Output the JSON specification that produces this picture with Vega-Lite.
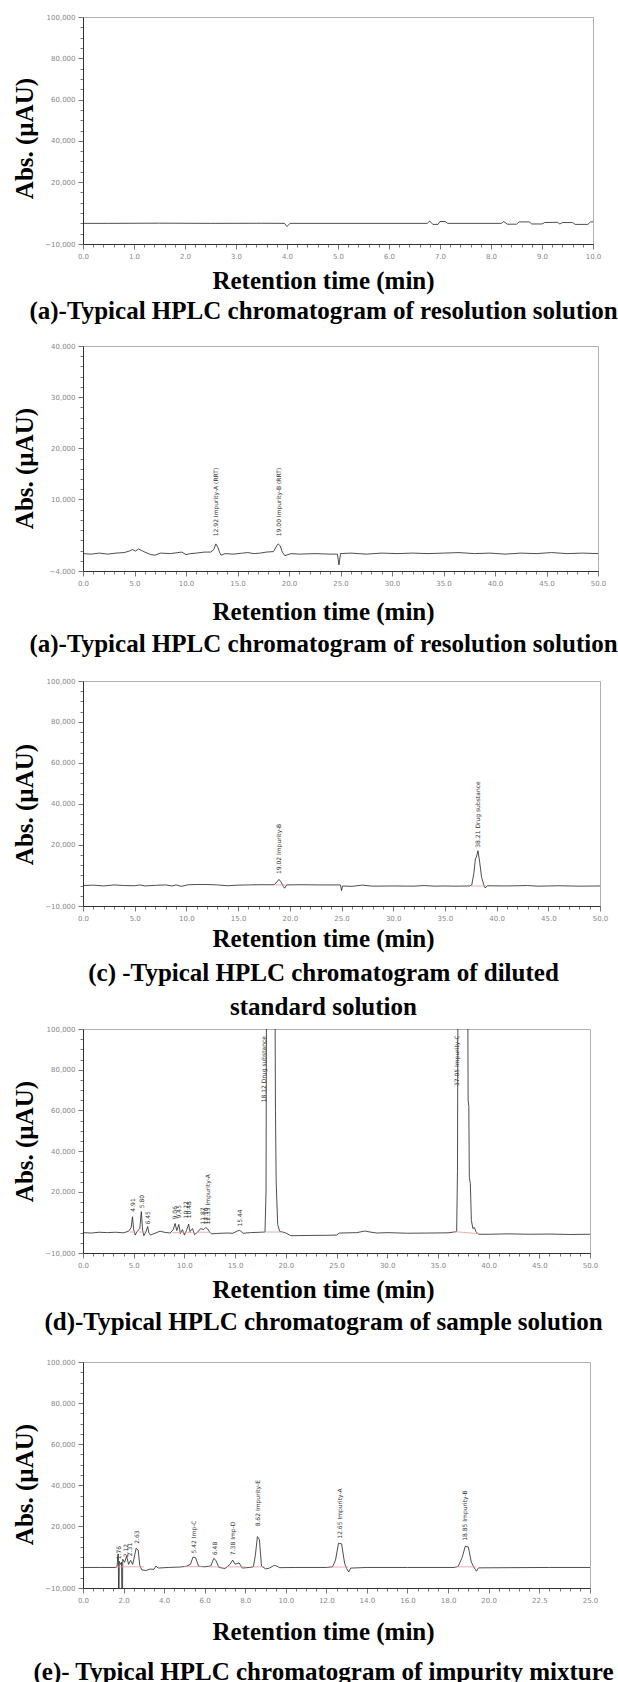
{
  "$schema": "https://vega.github.io/schema/vega-lite/v6.json",
  "padding": {"left": 11, "top": 12, "right": 0, "bottom": 0},
  "autosize": {"type": "pad"},
  "background": "white",
  "bounds": "flush",
  "spacing": 0,
  "config": {
    "view": {"stroke": null},
    "axis": {"grid": false, "domainColor": "#333", "domainWidth": 1, "tickColor": "#555", "tickWidth": 0.8, "tickCount": 200, "labelFont": "DejaVu Sans", "labelFontSize": 7, "labelColor": "#888", "labelOverlap": false, "labelFlush": false, "labelBound": false, "titleFont": "Liberation Serif", "titleFontWeight": "bold", "titleFontSize": 25, "titleColor": "#000"},
    "axisX": {"labelPadding": 3, "titleBaseline": "alphabetic", "titleAlign": "center", "titleX": 240},
    "axisY": {"labelPadding": 3, "titleBaseline": "middle", "titleAlign": "center", "titleX": -59, "titleAngle": 270},
    "text": {"font": "DejaVu Sans"}
  },
  "datasets": {
    "trace": [
      {"p":"a","t":0,"v":0},{"p":"a","t":0.5,"v":0},{"p":"a","t":1.5,"v":100},{"p":"a","t":2.5,"v":0},{"p":"a","t":3.5,"v":50},{"p":"a","t":3.95,"v":0},{"p":"a","t":4.0,"v":-1500},{"p":"a","t":4.06,"v":0},{"p":"a","t":5,"v":0},{"p":"a","t":6,"v":0},{"p":"a","t":6.75,"v":0},{"p":"a","t":6.8,"v":1100},{"p":"a","t":6.86,"v":-500},{"p":"a","t":6.96,"v":-500},{"p":"a","t":7.0,"v":900},{"p":"a","t":7.1,"v":900},{"p":"a","t":7.15,"v":0},{"p":"a","t":8.2,"v":0},{"p":"a","t":8.25,"v":900},{"p":"a","t":8.32,"v":-400},{"p":"a","t":8.5,"v":-400},{"p":"a","t":8.55,"v":700},{"p":"a","t":8.75,"v":700},{"p":"a","t":8.8,"v":-300},{"p":"a","t":9.0,"v":-300},{"p":"a","t":9.05,"v":400},{"p":"a","t":9.3,"v":500},{"p":"a","t":9.35,"v":-300},{"p":"a","t":9.4,"v":400},{"p":"a","t":9.6,"v":400},{"p":"a","t":9.65,"v":-500},{"p":"a","t":9.9,"v":-500},{"p":"a","t":9.95,"v":700},{"p":"a","t":10,"v":700},
      {"p":"b","t":0,"v":-600},{"p":"b","t":0.8,"v":-700},{"p":"b","t":1.6,"v":-500},{"p":"b","t":2.4,"v":-700},{"p":"b","t":3.2,"v":-500},{"p":"b","t":4.0,"v":-400},{"p":"b","t":4.5,"v":-100},{"p":"b","t":4.8,"v":200},{"p":"b","t":5.1,"v":-100},{"p":"b","t":5.4,"v":300},{"p":"b","t":5.7,"v":0},{"p":"b","t":6.0,"v":-300},{"p":"b","t":6.6,"v":-800},{"p":"b","t":7.0,"v":-900},{"p":"b","t":7.5,"v":-500},{"p":"b","t":8.5,"v":-600},{"p":"b","t":9.2,"v":-400},{"p":"b","t":9.6,"v":-300},{"p":"b","t":10.0,"v":-800},{"p":"b","t":10.4,"v":-600},{"p":"b","t":11.0,"v":-500},{"p":"b","t":11.8,"v":-300},{"p":"b","t":12.4,"v":-300},{"p":"b","t":12.7,"v":200},{"p":"b","t":12.9,"v":1300},{"p":"b","t":13.1,"v":600},{"p":"b","t":13.25,"v":-300},{"p":"b","t":13.4,"v":-900},{"p":"b","t":13.8,"v":-600},{"p":"b","t":14.6,"v":-700},{"p":"b","t":15.5,"v":-500},{"p":"b","t":16.0,"v":-400},{"p":"b","t":16.6,"v":-600},{"p":"b","t":17.2,"v":-500},{"p":"b","t":17.8,"v":-300},{"p":"b","t":18.5,"v":-200},{"p":"b","t":18.8,"v":900},{"p":"b","t":18.95,"v":1300},{"p":"b","t":19.15,"v":900},{"p":"b","t":19.35,"v":-300},{"p":"b","t":19.6,"v":-1000},{"p":"b","t":20.2,"v":-600},{"p":"b","t":21,"v":-700},{"p":"b","t":22.5,"v":-600},{"p":"b","t":24.0,"v":-700},{"p":"b","t":24.7,"v":-700},{"p":"b","t":24.85,"v":-2800},{"p":"b","t":25.0,"v":-600},{"p":"b","t":26,"v":-500},{"p":"b","t":27.5,"v":-700},{"p":"b","t":29,"v":-500},{"p":"b","t":30.5,"v":-600},{"p":"b","t":32,"v":-500},{"p":"b","t":33.5,"v":-600},{"p":"b","t":35,"v":-500},{"p":"b","t":36.5,"v":-400},{"p":"b","t":38,"v":-600},{"p":"b","t":39.5,"v":-500},{"p":"b","t":41,"v":-700},{"p":"b","t":42.5,"v":-500},{"p":"b","t":44,"v":-600},{"p":"b","t":45.5,"v":-400},{"p":"b","t":47,"v":-600},{"p":"b","t":48.5,"v":-500},{"p":"b","t":50,"v":-600},
      {"p":"c","t":0,"v":0},{"p":"c","t":1,"v":200},{"p":"c","t":2,"v":-200},{"p":"c","t":3,"v":300},{"p":"c","t":4,"v":0},{"p":"c","t":5,"v":-100},{"p":"c","t":5.5,"v":300},{"p":"c","t":6,"v":-200},{"p":"c","t":7,"v":100},{"p":"c","t":8,"v":300},{"p":"c","t":8.6,"v":-200},{"p":"c","t":9,"v":300},{"p":"c","t":9.5,"v":-400},{"p":"c","t":10.2,"v":400},{"p":"c","t":11,"v":500},{"p":"c","t":12,"v":500},{"p":"c","t":13,"v":300},{"p":"c","t":14,"v":-100},{"p":"c","t":15,"v":200},{"p":"c","t":16,"v":300},{"p":"c","t":17,"v":400},{"p":"c","t":18.5,"v":400},{"p":"c","t":18.75,"v":1800},{"p":"c","t":18.95,"v":3000},{"p":"c","t":19.15,"v":1800},{"p":"c","t":19.35,"v":-300},{"p":"c","t":19.5,"v":-1300},{"p":"c","t":19.7,"v":300},{"p":"c","t":21,"v":400},{"p":"c","t":23,"v":300},{"p":"c","t":24.9,"v":300},{"p":"c","t":25.0,"v":-2500},{"p":"c","t":25.1,"v":-200},{"p":"c","t":26,"v":-400},{"p":"c","t":27,"v":200},{"p":"c","t":28,"v":-300},{"p":"c","t":30,"v":-200},{"p":"c","t":32,"v":-300},{"p":"c","t":33,"v":0},{"p":"c","t":34,"v":-300},{"p":"c","t":35,"v":-200},{"p":"c","t":36,"v":-300},{"p":"c","t":37.4,"v":-200},{"p":"c","t":37.6,"v":300},{"p":"c","t":37.8,"v":6000},{"p":"c","t":37.95,"v":13000},{"p":"c","t":38.05,"v":14000},{"p":"c","t":38.2,"v":17000},{"p":"c","t":38.35,"v":12000},{"p":"c","t":38.55,"v":4000},{"p":"c","t":38.75,"v":500},{"p":"c","t":38.9,"v":-1200},{"p":"c","t":39.1,"v":-100},{"p":"c","t":41,"v":-200},{"p":"c","t":43,"v":0},{"p":"c","t":44,"v":-300},{"p":"c","t":46,"v":-100},{"p":"c","t":48,"v":-300},{"p":"c","t":50,"v":-200},
      {"p":"d","t":0,"v":0},{"p":"d","t":0.8,"v":-200},{"p":"d","t":1.6,"v":200},{"p":"d","t":2.4,"v":0},{"p":"d","t":3.2,"v":200},{"p":"d","t":4.0,"v":-100},{"p":"d","t":4.5,"v":700},{"p":"d","t":4.75,"v":2500},{"p":"d","t":4.88,"v":7800},{"p":"d","t":5.0,"v":1500},{"p":"d","t":5.15,"v":-1200},{"p":"d","t":5.35,"v":600},{"p":"d","t":5.6,"v":2000},{"p":"d","t":5.75,"v":10300},{"p":"d","t":5.88,"v":1200},{"p":"d","t":6.0,"v":-1500},{"p":"d","t":6.2,"v":300},{"p":"d","t":6.38,"v":3000},{"p":"d","t":6.5,"v":-200},{"p":"d","t":6.65,"v":-1200},{"p":"d","t":7.0,"v":-500},{"p":"d","t":7.6,"v":700},{"p":"d","t":8.0,"v":200},{"p":"d","t":8.6,"v":-200},{"p":"d","t":8.9,"v":1500},{"p":"d","t":9.08,"v":4500},{"p":"d","t":9.25,"v":1000},{"p":"d","t":9.45,"v":4000},{"p":"d","t":9.6,"v":-500},{"p":"d","t":9.8,"v":1500},{"p":"d","t":10.0,"v":-1200},{"p":"d","t":10.2,"v":1000},{"p":"d","t":10.42,"v":4200},{"p":"d","t":10.55,"v":500},{"p":"d","t":10.8,"v":2000},{"p":"d","t":11.0,"v":-1000},{"p":"d","t":11.3,"v":200},{"p":"d","t":11.6,"v":2000},{"p":"d","t":11.9,"v":1500},{"p":"d","t":12.1,"v":2500},{"p":"d","t":12.3,"v":1800},{"p":"d","t":12.5,"v":200},{"p":"d","t":12.7,"v":-600},{"p":"d","t":13.2,"v":-400},{"p":"d","t":14.2,"v":-200},{"p":"d","t":14.8,"v":-300},{"p":"d","t":15.2,"v":800},{"p":"d","t":15.45,"v":1100},{"p":"d","t":15.8,"v":-300},{"p":"d","t":16.5,"v":0},{"p":"d","t":17.5,"v":200},{"p":"d","t":17.95,"v":300},{"p":"d","t":18.05,"v":20000},{"p":"d","t":18.12,"v":160000},{"p":"d","t":18.9,"v":160000},{"p":"d","t":18.98,"v":60000},{"p":"d","t":19.05,"v":25000},{"p":"d","t":19.2,"v":4000},{"p":"d","t":19.4,"v":600},{"p":"d","t":19.7,"v":300},{"p":"d","t":20.0,"v":-200},{"p":"d","t":20.5,"v":-1500},{"p":"d","t":22,"v":-1400},{"p":"d","t":24,"v":-1300},{"p":"d","t":25.0,"v":-1200},{"p":"d","t":25.3,"v":-200},{"p":"d","t":27,"v":0},{"p":"d","t":27.8,"v":800},{"p":"d","t":28.3,"v":300},{"p":"d","t":29,"v":-200},{"p":"d","t":30,"v":0},{"p":"d","t":32,"v":-300},{"p":"d","t":34,"v":-200},{"p":"d","t":36,"v":-100},{"p":"d","t":36.85,"v":500},{"p":"d","t":36.93,"v":30000},{"p":"d","t":37.0,"v":160000},{"p":"d","t":37.92,"v":160000},{"p":"d","t":37.98,"v":65000},{"p":"d","t":38.05,"v":62000},{"p":"d","t":38.1,"v":27000},{"p":"d","t":38.2,"v":24000},{"p":"d","t":38.3,"v":6000},{"p":"d","t":38.45,"v":2000},{"p":"d","t":38.6,"v":2500},{"p":"d","t":38.75,"v":500},{"p":"d","t":39.0,"v":-800},{"p":"d","t":40,"v":-800},{"p":"d","t":42,"v":-600},{"p":"d","t":44,"v":-800},{"p":"d","t":46,"v":-700},{"p":"d","t":48,"v":-900},{"p":"d","t":50,"v":-800},
      {"p":"e","t":0,"v":0},{"p":"e","t":0.8,"v":0},{"p":"e","t":1.6,"v":0},{"p":"e","t":1.68,"v":300},{"p":"e","t":1.72,"v":6500},{"p":"e","t":1.745,"v":6500},{"p":"e","t":1.76,"v":-30000},{"p":"e","t":1.79,"v":3000},{"p":"e","t":1.85,"v":1500},{"p":"e","t":1.9,"v":2500},{"p":"e","t":1.935,"v":-30000},{"p":"e","t":1.96,"v":4000},{"p":"e","t":2.05,"v":2500},{"p":"e","t":2.15,"v":5500},{"p":"e","t":2.25,"v":1500},{"p":"e","t":2.35,"v":3500},{"p":"e","t":2.45,"v":1500},{"p":"e","t":2.55,"v":6000},{"p":"e","t":2.62,"v":9300},{"p":"e","t":2.72,"v":8500},{"p":"e","t":2.8,"v":1000},{"p":"e","t":2.9,"v":-1200},{"p":"e","t":3.1,"v":-1500},{"p":"e","t":3.3,"v":-800},{"p":"e","t":3.5,"v":-900},{"p":"e","t":3.6,"v":700},{"p":"e","t":3.7,"v":-300},{"p":"e","t":4.2,"v":0},{"p":"e","t":4.8,"v":200},{"p":"e","t":5.1,"v":600},{"p":"e","t":5.3,"v":1500},{"p":"e","t":5.42,"v":5000},{"p":"e","t":5.55,"v":4800},{"p":"e","t":5.7,"v":600},{"p":"e","t":6.0,"v":300},{"p":"e","t":6.3,"v":700},{"p":"e","t":6.45,"v":4400},{"p":"e","t":6.55,"v":3500},{"p":"e","t":6.7,"v":0},{"p":"e","t":7.0,"v":-500},{"p":"e","t":7.25,"v":1500},{"p":"e","t":7.38,"v":3600},{"p":"e","t":7.5,"v":1600},{"p":"e","t":7.7,"v":2200},{"p":"e","t":7.85,"v":-300},{"p":"e","t":8.2,"v":0},{"p":"e","t":8.4,"v":300},{"p":"e","t":8.5,"v":6000},{"p":"e","t":8.6,"v":15000},{"p":"e","t":8.7,"v":13500},{"p":"e","t":8.8,"v":700},{"p":"e","t":9.0,"v":-700},{"p":"e","t":9.2,"v":-300},{"p":"e","t":9.4,"v":900},{"p":"e","t":9.5,"v":900},{"p":"e","t":9.7,"v":-100},{"p":"e","t":10.5,"v":0},{"p":"e","t":12.0,"v":0},{"p":"e","t":12.3,"v":300},{"p":"e","t":12.45,"v":3500},{"p":"e","t":12.6,"v":11800},{"p":"e","t":12.75,"v":11500},{"p":"e","t":12.9,"v":2000},{"p":"e","t":13.0,"v":-500},{"p":"e","t":13.1,"v":-2200},{"p":"e","t":13.2,"v":-300},{"p":"e","t":14,"v":0},{"p":"e","t":16,"v":0},{"p":"e","t":18.3,"v":0},{"p":"e","t":18.5,"v":500},{"p":"e","t":18.7,"v":5000},{"p":"e","t":18.85,"v":10300},{"p":"e","t":19.0,"v":10000},{"p":"e","t":19.15,"v":2500},{"p":"e","t":19.3,"v":-300},{"p":"e","t":19.4,"v":-1800},{"p":"e","t":19.5,"v":-200},{"p":"e","t":21,"v":-100},{"p":"e","t":23,"v":0},{"p":"e","t":25,"v":0}
    ],
    "base": [
      {"p":"c","g":1,"t":18.6,"v":300},{"p":"c","g":1,"t":19.6,"v":300},{"p":"c","g":2,"t":37.5,"v":-200},{"p":"c","g":2,"t":39.0,"v":-200},
      {"p":"d","g":1,"t":4.6,"v":300},{"p":"d","g":1,"t":5.2,"v":300},{"p":"d","g":2,"t":5.5,"v":300},{"p":"d","g":2,"t":6.1,"v":300},{"p":"d","g":3,"t":8.8,"v":0},{"p":"d","g":3,"t":10.8,"v":0},{"p":"d","g":4,"t":11.3,"v":200},{"p":"d","g":4,"t":12.6,"v":200},{"p":"d","g":5,"t":17.8,"v":300},{"p":"d","g":5,"t":19.6,"v":300},{"p":"d","g":6,"t":36.6,"v":500},{"p":"d","g":6,"t":39.0,"v":-500},
      {"p":"e","g":1,"t":1.6,"v":300},{"p":"e","g":1,"t":3.0,"v":300},{"p":"e","g":2,"t":5.0,"v":400},{"p":"e","g":2,"t":5.9,"v":400},{"p":"e","g":3,"t":6.2,"v":300},{"p":"e","g":3,"t":6.8,"v":300},{"p":"e","g":4,"t":7.1,"v":300},{"p":"e","g":4,"t":8.0,"v":300},{"p":"e","g":5,"t":8.3,"v":300},{"p":"e","g":5,"t":8.95,"v":300},{"p":"e","g":6,"t":12.2,"v":200},{"p":"e","g":6,"t":13.1,"v":200},{"p":"e","g":7,"t":18.4,"v":300},{"p":"e","g":7,"t":19.4,"v":300}
    ],
    "labels": [
      {"p":"b","t":12.92,"v":2800,"text":"12.92  Impurity-A (RRT)"},{"p":"b","t":19.0,"v":2800,"text":"19.00  Impurity-B (RRT)"},
      {"p":"c","t":19.0,"v":5600,"text":"19.02  Impurity-B"},{"p":"c","t":38.2,"v":18500,"text":"38.21  Drug substance"},
      {"p":"d","t":4.9,"v":10300,"text":"4.91"},{"p":"d","t":5.8,"v":12000,"text":"5.80"},{"p":"d","t":6.45,"v":4000,"text":"6.45"},{"p":"d","t":9.05,"v":6500,"text":"9.06"},{"p":"d","t":9.45,"v":7000,"text":"9.45"},{"p":"d","t":10.2,"v":7000,"text":"10.22"},{"p":"d","t":10.45,"v":7000,"text":"10.48"},{"p":"d","t":11.85,"v":4000,"text":"11.87"},{"p":"d","t":12.1,"v":4000,"text":"12.10"},{"p":"d","t":12.35,"v":4000,"text":"12.33  Impurity-A"},{"p":"d","t":15.45,"v":3000,"text":"15.44"},{"p":"d","t":17.85,"v":64000,"text":"18.12  Drug substance"},{"p":"d","t":36.85,"v":72000,"text":"37.05  Impurity-C"},
      {"p":"e","t":1.76,"v":4000,"text":"1.76"},{"p":"e","t":2.12,"v":5000,"text":"2.12"},{"p":"e","t":2.3,"v":5500,"text":"2.31"},{"p":"e","t":2.65,"v":11500,"text":"2.63"},{"p":"e","t":5.45,"v":6800,"text":"5.42  Imp-C"},{"p":"e","t":6.5,"v":6000,"text":"6.48"},{"p":"e","t":7.4,"v":6000,"text":"7.38  Imp-D"},{"p":"e","t":8.62,"v":20000,"text":"8.62  Impurity-E"},{"p":"e","t":12.65,"v":14000,"text":"12.65  Impurity-A"},{"p":"e","t":18.85,"v":13000,"text":"18.85  Impurity-B"}
    ]
  },
  "vconcat": [
    {
      "width": 510, "height": 227, "view": {"stroke": "#b0b0b0"},
      "layer": [
        {"data": {"name": "trace"}, "transform": [{"filter": "datum.p === 'a'"}],
         "mark": {"type": "line", "color": "#222", "strokeWidth": 0.8, "clip": true},
         "encoding": {
           "x": {"field": "t", "type": "quantitative", "scale": {"domain": [0, 10], "nice": false, "zero": false},
                 "axis": {"title": ["Retention time (min)", "(a)-Typical HPLC chromatogram of resolution solution"], "titleY": 44.5, "titleLineHeight": 30, "tickCount": 200, "labelOverlap": false,
                          "values": [0,0.2,0.4,0.6,0.8,1,1.2,1.4,1.6,1.8,2,2.2,2.4,2.6,2.8,3,3.2,3.4,3.6,3.8,4,4.2,4.4,4.6,4.8,5,5.2,5.4,5.6,5.8,6,6.2,6.4,6.6,6.8,7,7.2,7.4,7.6,7.8,8,8.2,8.4,8.6,8.8,9,9.2,9.4,9.6,9.8,10],
                          "labelExpr": "datum.value % 1 === 0 ? format(datum.value, '.1f') : ''",
                          "tickSize": {"condition": {"test": "datum.value % 1 === 0", "value": 5}, "value": 3}}},
           "y": {"field": "v", "type": "quantitative", "scale": {"domain": [-10000, 100000], "nice": false, "zero": false},
                 "axis": {"title": "Abs. (µAU)", "titleY": 121, "tickCount": 200, "labelOverlap": false,
                          "values": [-10000,-5000,0,5000,10000,15000,20000,25000,30000,35000,40000,45000,50000,55000,60000,65000,70000,75000,80000,85000,90000,95000,100000],
                          "labelExpr": "indexof([-10000,20000,40000,60000,80000,100000], datum.value) >= 0 ? format(datum.value, ',') : ''",
                          "tickSize": {"condition": {"test": "indexof([-10000,20000,40000,60000,80000,100000], datum.value) >= 0", "value": 5}, "value": 3}}}
         }},
        {"mark": {"type": "text", "align": "left", "baseline": "middle", "fontSize": 7, "color": "#777", "dx": 3},
         "encoding": {"x": {"datum": 0}, "y": {"datum": 97000}, "text": {"value": "µAU"}}},
        {"mark": {"type": "text", "align": "right", "baseline": "middle", "fontSize": 7, "color": "#777", "dx": -3},
         "encoding": {"x": {"datum": 10}, "y": {"datum": 97000}, "text": {"value": "WVL:380 nm"}}},
        {"mark": {"type": "text", "align": "right", "baseline": "middle", "fontSize": 7, "color": "#777", "dx": -3},
         "encoding": {"x": {"datum": 10}, "y": {"datum": -7000}, "text": {"value": "min"}}}
      ]
    },
    {"width": 1, "height": 102, "data": {"values": []}, "mark": "point"},
    {
      "width": 515, "height": 225, "view": {"stroke": "#b0b0b0"},
      "layer": [
        {"data": {"name": "trace"}, "transform": [{"filter": "datum.p === 'b'"}],
         "mark": {"type": "line", "color": "#222", "strokeWidth": 0.8, "clip": true},
         "encoding": {
           "x": {"field": "t", "type": "quantitative", "scale": {"domain": [0, 50], "nice": false, "zero": false},
                 "axis": {"title": ["Retention time (min)", "(a)-Typical HPLC chromatogram of resolution solution"], "titleY": 48.5, "titleLineHeight": 32, "tickCount": 200, "labelOverlap": false,
                          "values": [0,1,2,3,4,5,6,7,8,9,10,11,12,13,14,15,16,17,18,19,20,21,22,23,24,25,26,27,28,29,30,31,32,33,34,35,36,37,38,39,40,41,42,43,44,45,46,47,48,49,50],
                          "labelExpr": "datum.value % 5 === 0 ? format(datum.value, '.1f') : ''",
                          "tickSize": {"condition": {"test": "datum.value % 5 === 0", "value": 5}, "value": 3}}},
           "y": {"field": "v", "type": "quantitative", "scale": {"domain": [-4000, 40000], "nice": false, "zero": false},
                 "axis": {"title": "Abs. (µAU)", "titleY": 122, "tickCount": 200, "labelOverlap": false,
                          "values": [-4000,-2000,0,2000,4000,6000,8000,10000,12000,14000,16000,18000,20000,22000,24000,26000,28000,30000,32000,34000,36000,38000,40000],
                          "labelExpr": "indexof([-4000,10000,20000,30000,40000], datum.value) >= 0 ? format(datum.value, ',') : ''",
                          "tickSize": {"condition": {"test": "indexof([-4000,10000,20000,30000,40000], datum.value) >= 0", "value": 5}, "value": 3}}}
         }},
        {"data": {"name": "labels"}, "transform": [{"filter": "datum.p === 'b'"}],
         "mark": {"type": "text", "angle": 270, "align": "left", "baseline": "middle", "fontSize": 6, "color": "#333", "clip": true},
         "encoding": {"x": {"field": "t", "type": "quantitative"}, "y": {"field": "v", "type": "quantitative"}, "text": {"field": "text"}}},
        {"mark": {"type": "text", "align": "left", "baseline": "middle", "fontSize": 7, "color": "#777", "dx": 3},
         "encoding": {"x": {"datum": 0}, "y": {"datum": 38800}, "text": {"value": "µAU"}}},
        {"mark": {"type": "text", "align": "right", "baseline": "middle", "fontSize": 7, "color": "#777", "dx": -3},
         "encoding": {"x": {"datum": 50}, "y": {"datum": 38800}, "text": {"value": "WVL:350 nm"}}},
        {"mark": {"type": "text", "align": "right", "baseline": "middle", "fontSize": 7, "color": "#777", "dx": -3},
         "encoding": {"x": {"datum": 50}, "y": {"datum": -2800}, "text": {"value": "min"}}}
      ]
    },
    {"width": 1, "height": 110, "data": {"values": []}, "mark": "point"},
    {
      "width": 517, "height": 225, "view": {"stroke": "#b0b0b0"},
      "layer": [
        {"data": {"name": "trace"}, "transform": [{"filter": "datum.p === 'c'"}],
         "mark": {"type": "line", "color": "#222", "strokeWidth": 0.8, "clip": true},
         "encoding": {
           "x": {"field": "t", "type": "quantitative", "scale": {"domain": [0, 50], "nice": false, "zero": false},
                 "axis": {"title": ["Retention time (min)", "(c) -Typical HPLC chromatogram of diluted", "standard  solution"], "titleY": 40, "titleLineHeight": 34, "tickCount": 200, "labelOverlap": false,
                          "values": [0,1,2,3,4,5,6,7,8,9,10,11,12,13,14,15,16,17,18,19,20,21,22,23,24,25,26,27,28,29,30,31,32,33,34,35,36,37,38,39,40,41,42,43,44,45,46,47,48,49,50],
                          "labelExpr": "datum.value % 5 === 0 ? format(datum.value, '.1f') : ''",
                          "tickSize": {"condition": {"test": "datum.value % 5 === 0", "value": 5}, "value": 3}}},
           "y": {"field": "v", "type": "quantitative", "scale": {"domain": [-10000, 100000], "nice": false, "zero": false},
                 "axis": {"title": "Abs. (µAU)", "titleY": 123, "tickCount": 200, "labelOverlap": false,
                          "values": [-10000,-5000,0,5000,10000,15000,20000,25000,30000,35000,40000,45000,50000,55000,60000,65000,70000,75000,80000,85000,90000,95000,100000],
                          "labelExpr": "indexof([-10000,20000,40000,60000,80000,100000], datum.value) >= 0 ? format(datum.value, ',') : ''",
                          "tickSize": {"condition": {"test": "indexof([-10000,20000,40000,60000,80000,100000], datum.value) >= 0", "value": 5}, "value": 3}}}
         }},
        {"data": {"name": "base"}, "transform": [{"filter": "datum.p === 'c'"}],
         "mark": {"type": "line", "color": "#e89a9a", "strokeWidth": 0.8},
         "encoding": {"x": {"field": "t", "type": "quantitative"}, "y": {"field": "v", "type": "quantitative"}, "detail": {"field": "g"}}},
        {"data": {"name": "labels"}, "transform": [{"filter": "datum.p === 'c'"}],
         "mark": {"type": "text", "angle": 270, "align": "left", "baseline": "middle", "fontSize": 6, "color": "#333", "clip": true},
         "encoding": {"x": {"field": "t", "type": "quantitative"}, "y": {"field": "v", "type": "quantitative"}, "text": {"field": "text"}}},
        {"mark": {"type": "text", "align": "left", "baseline": "middle", "fontSize": 7, "color": "#777", "dx": 3},
         "encoding": {"x": {"datum": 0}, "y": {"datum": 97000}, "text": {"value": "µAU"}}},
        {"mark": {"type": "text", "align": "right", "baseline": "middle", "fontSize": 7, "color": "#777", "dx": -3},
         "encoding": {"x": {"datum": 50}, "y": {"datum": 97000}, "text": {"value": "WVL:300 nm"}}},
        {"mark": {"type": "text", "align": "right", "baseline": "middle", "fontSize": 7, "color": "#777", "dx": -3},
         "encoding": {"x": {"datum": 50}, "y": {"datum": -7000}, "text": {"value": "min"}}}
      ]
    },
    {"width": 1, "height": 123, "data": {"values": []}, "mark": "point"},
    {
      "width": 507, "height": 224, "view": {"stroke": "#b0b0b0"},
      "layer": [
        {"data": {"name": "trace"}, "transform": [{"filter": "datum.p === 'd'"}],
         "mark": {"type": "line", "color": "#222", "strokeWidth": 0.8, "clip": true},
         "encoding": {
           "x": {"field": "t", "type": "quantitative", "scale": {"domain": [0, 50], "nice": false, "zero": false},
                 "axis": {"title": ["Retention time (min)", "(d)-Typical HPLC chromatogram of sample solution"], "titleY": 44, "titleLineHeight": 32, "tickCount": 200, "labelOverlap": false,
                          "values": [0,1,2,3,4,5,6,7,8,9,10,11,12,13,14,15,16,17,18,19,20,21,22,23,24,25,26,27,28,29,30,31,32,33,34,35,36,37,38,39,40,41,42,43,44,45,46,47,48,49,50],
                          "labelExpr": "datum.value % 5 === 0 ? format(datum.value, '.1f') : ''",
                          "tickSize": {"condition": {"test": "datum.value % 5 === 0", "value": 5}, "value": 3}}},
           "y": {"field": "v", "type": "quantitative", "scale": {"domain": [-10000, 100000], "nice": false, "zero": false},
                 "axis": {"title": "Abs. (µAU)", "titleY": 112, "tickCount": 200, "labelOverlap": false,
                          "values": [-10000,-5000,0,5000,10000,15000,20000,25000,30000,35000,40000,45000,50000,55000,60000,65000,70000,75000,80000,85000,90000,95000,100000],
                          "labelExpr": "indexof([-10000,20000,40000,60000,80000,100000], datum.value) >= 0 ? format(datum.value, ',') : ''",
                          "tickSize": {"condition": {"test": "indexof([-10000,20000,40000,60000,80000,100000], datum.value) >= 0", "value": 5}, "value": 3}}}
         }},
        {"data": {"name": "base"}, "transform": [{"filter": "datum.p === 'd'"}],
         "mark": {"type": "line", "color": "#e89a9a", "strokeWidth": 0.8},
         "encoding": {"x": {"field": "t", "type": "quantitative"}, "y": {"field": "v", "type": "quantitative"}, "detail": {"field": "g"}}},
        {"data": {"name": "labels"}, "transform": [{"filter": "datum.p === 'd'"}],
         "mark": {"type": "text", "angle": 270, "align": "left", "baseline": "middle", "fontSize": 6, "color": "#333", "clip": true},
         "encoding": {"x": {"field": "t", "type": "quantitative"}, "y": {"field": "v", "type": "quantitative"}, "text": {"field": "text"}}},
        {"mark": {"type": "text", "align": "left", "baseline": "middle", "fontSize": 7, "color": "#777", "dx": 3},
         "encoding": {"x": {"datum": 0}, "y": {"datum": 97000}, "text": {"value": "µAU"}}},
        {"mark": {"type": "text", "align": "right", "baseline": "middle", "fontSize": 7, "color": "#777", "dx": -3},
         "encoding": {"x": {"datum": 50}, "y": {"datum": 97000}, "text": {"value": "WVL:300 nm"}}},
        {"mark": {"type": "text", "align": "right", "baseline": "middle", "fontSize": 7, "color": "#777", "dx": -3},
         "encoding": {"x": {"datum": 50}, "y": {"datum": -7000}, "text": {"value": "min"}}}
      ]
    },
    {"width": 1, "height": 109, "data": {"values": []}, "mark": "point"},
    {
      "width": 507, "height": 226, "view": {"stroke": "#b0b0b0"},
      "layer": [
        {"data": {"name": "trace"}, "transform": [{"filter": "datum.p === 'e'"}],
         "mark": {"type": "line", "color": "#222", "strokeWidth": 0.8, "clip": true},
         "encoding": {
           "x": {"field": "t", "type": "quantitative", "scale": {"domain": [0, 25], "nice": false, "zero": false},
                 "axis": {"title": ["Retention time (min)", "(e)- Typical HPLC chromatogram of impurity mixture"], "titleY": 51, "titleLineHeight": 40, "tickCount": 200, "labelOverlap": false,
                          "values": [0,0.5,1,1.5,2,2.5,3,3.5,4,4.5,5,5.5,6,6.5,7,7.5,8,8.5,9,9.5,10,10.5,11,11.5,12,12.5,13,13.5,14,14.5,15,15.5,16,16.5,17,17.5,18,18.5,19,19.5,20,20.5,21,21.5,22,22.5,23,23.5,24,24.5,25],
                          "labelExpr": "(datum.value <= 20 && datum.value % 2 === 0) || datum.value === 22.5 || datum.value === 25 ? format(datum.value, '.1f') : ''",
                          "tickSize": {"condition": {"test": "(datum.value <= 20 && datum.value % 2 === 0) || datum.value === 22.5 || datum.value === 25", "value": 5}, "value": 3}}},
           "y": {"field": "v", "type": "quantitative", "scale": {"domain": [-10000, 100000], "nice": false, "zero": false},
                 "axis": {"title": "Abs. (µAU)", "titleY": 122, "tickCount": 200, "labelOverlap": false,
                          "values": [-10000,-5000,0,5000,10000,15000,20000,25000,30000,35000,40000,45000,50000,55000,60000,65000,70000,75000,80000,85000,90000,95000,100000],
                          "labelExpr": "indexof([-10000,20000,40000,60000,80000,100000], datum.value) >= 0 ? format(datum.value, ',') : ''",
                          "tickSize": {"condition": {"test": "indexof([-10000,20000,40000,60000,80000,100000], datum.value) >= 0", "value": 5}, "value": 3}}}
         }},
        {"data": {"name": "base"}, "transform": [{"filter": "datum.p === 'e'"}],
         "mark": {"type": "line", "color": "#e89a9a", "strokeWidth": 0.8},
         "encoding": {"x": {"field": "t", "type": "quantitative"}, "y": {"field": "v", "type": "quantitative"}, "detail": {"field": "g"}}},
        {"data": {"name": "labels"}, "transform": [{"filter": "datum.p === 'e'"}],
         "mark": {"type": "text", "angle": 270, "align": "left", "baseline": "middle", "fontSize": 6, "color": "#333", "clip": true},
         "encoding": {"x": {"field": "t", "type": "quantitative"}, "y": {"field": "v", "type": "quantitative"}, "text": {"field": "text"}}},
        {"mark": {"type": "text", "align": "left", "baseline": "middle", "fontSize": 7, "color": "#777", "dx": 3},
         "encoding": {"x": {"datum": 0}, "y": {"datum": 97000}, "text": {"value": "µAU"}}},
        {"mark": {"type": "text", "align": "right", "baseline": "middle", "fontSize": 7, "color": "#777", "dx": -3},
         "encoding": {"x": {"datum": 25}, "y": {"datum": 97000}, "text": {"value": "WVL:210 nm"}}},
        {"mark": {"type": "text", "align": "right", "baseline": "middle", "fontSize": 7, "color": "#777", "dx": -3},
         "encoding": {"x": {"datum": 25}, "y": {"datum": -7000}, "text": {"value": "min"}}}
      ]
    }
  ]
}
